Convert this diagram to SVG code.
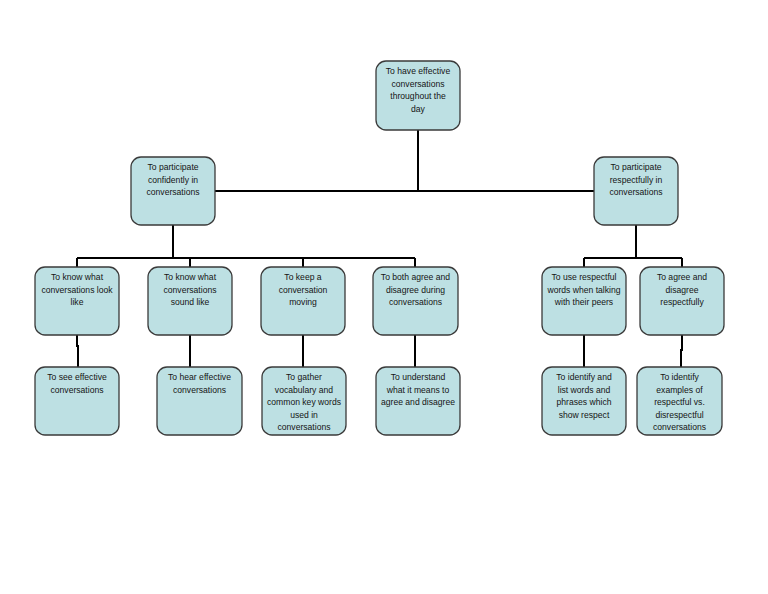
<svg xmlns="http://www.w3.org/2000/svg" width="768" height="594" viewBox="0 0 768 594">
<style>
.box{fill:#bde0e3;stroke:#3a3a3a;stroke-width:1.3}
.t{font-family:"Liberation Sans",Arial,sans-serif;font-size:8.6px;fill:#151515;text-anchor:middle}
.c{fill:none;stroke:#000;stroke-width:2}
</style>
<rect width="768" height="594" fill="#fff"/>
<g id="connectors">
<path class="c" d="M418,130V191M215,191H594"/>
<path class="c" d="M173,225V258M77,258H415M77,258V267M190,258V267M303,258V267M415,258V267"/>
<path class="c" d="M636,225V258M584,258H682M584,258V267M682,258V267"/>
<path class="c" d="M77,335V346H78V367M190,335V367M303,335V367M415,335V367M584,335V367M682,335V350H681V367"/>
</g>
<g id="root"><rect class="box" x="376" y="61" width="84" height="69" rx="10"/>
<text class="t" x="418" y="74">To have effective</text><text class="t" x="418" y="86.5">conversations</text><text class="t" x="418" y="99">throughout the</text><text class="t" x="418" y="111.5">day</text></g>
<g id="confidently"><rect class="box" x="131" y="157" width="84" height="68" rx="10"/>
<text class="t" x="173" y="170">To participate</text><text class="t" x="173" y="182.5">confidently in</text><text class="t" x="173" y="195">conversations</text></g>
<g id="respectfully"><rect class="box" x="594" y="157" width="84" height="68" rx="10"/>
<text class="t" x="636" y="170">To participate</text><text class="t" x="636" y="182.5">respectfully in</text><text class="t" x="636" y="195">conversations</text></g>
<g id="look"><rect class="box" x="35" y="267" width="84" height="68" rx="10"/>
<text class="t" x="77" y="280">To know what</text><text class="t" x="77" y="292.5">conversations look</text><text class="t" x="77" y="305">like</text></g>
<g id="sound"><rect class="box" x="148" y="267" width="84" height="68" rx="10"/>
<text class="t" x="190" y="280">To know what</text><text class="t" x="190" y="292.5">conversations</text><text class="t" x="190" y="305">sound like</text></g>
<g id="moving"><rect class="box" x="261" y="267" width="84" height="68" rx="10"/>
<text class="t" x="303" y="280">To keep a</text><text class="t" x="303" y="292.5">conversation</text><text class="t" x="303" y="305">moving</text></g>
<g id="agree"><rect class="box" x="373" y="267" width="85" height="68" rx="10"/>
<text class="t" x="415.5" y="280">To both agree and</text><text class="t" x="415.5" y="292.5">disagree during</text><text class="t" x="415.5" y="305">conversations</text></g>
<g id="words"><rect class="box" x="542" y="267" width="84" height="68" rx="10"/>
<text class="t" x="584" y="280">To use respectful</text><text class="t" x="584" y="292.5">words when talking</text><text class="t" x="584" y="305">with their peers</text></g>
<g id="agreeresp"><rect class="box" x="640" y="267" width="84" height="68" rx="10"/>
<text class="t" x="682" y="280">To agree and</text><text class="t" x="682" y="292.5">disagree</text><text class="t" x="682" y="305">respectfully</text></g>
<g id="see"><rect class="box" x="35" y="367" width="84" height="68" rx="10"/>
<text class="t" x="77" y="380">To see effective</text><text class="t" x="77" y="392.5">conversations</text></g>
<g id="hear"><rect class="box" x="157" y="367" width="85" height="68" rx="10"/>
<text class="t" x="199.5" y="380">To hear effective</text><text class="t" x="199.5" y="392.5">conversations</text></g>
<g id="gather"><rect class="box" x="262" y="367" width="84" height="68" rx="10"/>
<text class="t" x="304" y="380">To gather</text><text class="t" x="304" y="392.5">vocabulary and</text><text class="t" x="304" y="405">common key words</text><text class="t" x="304" y="417.5">used in</text><text class="t" x="304" y="430">conversations</text></g>
<g id="understand"><rect class="box" x="376" y="367" width="84" height="68" rx="10"/>
<text class="t" x="418" y="380">To understand</text><text class="t" x="418" y="392.5">what it means to</text><text class="t" x="418" y="405">agree and disagree</text></g>
<g id="identify"><rect class="box" x="542" y="367" width="84" height="68" rx="10"/>
<text class="t" x="584" y="380">To identify and</text><text class="t" x="584" y="392.5">list words and</text><text class="t" x="584" y="405">phrases which</text><text class="t" x="584" y="417.5">show respect</text></g>
<g id="examples"><rect class="box" x="637" y="367" width="85" height="68" rx="10"/>
<text class="t" x="679.5" y="380">To identify</text><text class="t" x="679.5" y="392.5">examples of</text><text class="t" x="679.5" y="405">respectful vs.</text><text class="t" x="679.5" y="417.5">disrespectful</text><text class="t" x="679.5" y="430">conversations</text></g>
</svg>
